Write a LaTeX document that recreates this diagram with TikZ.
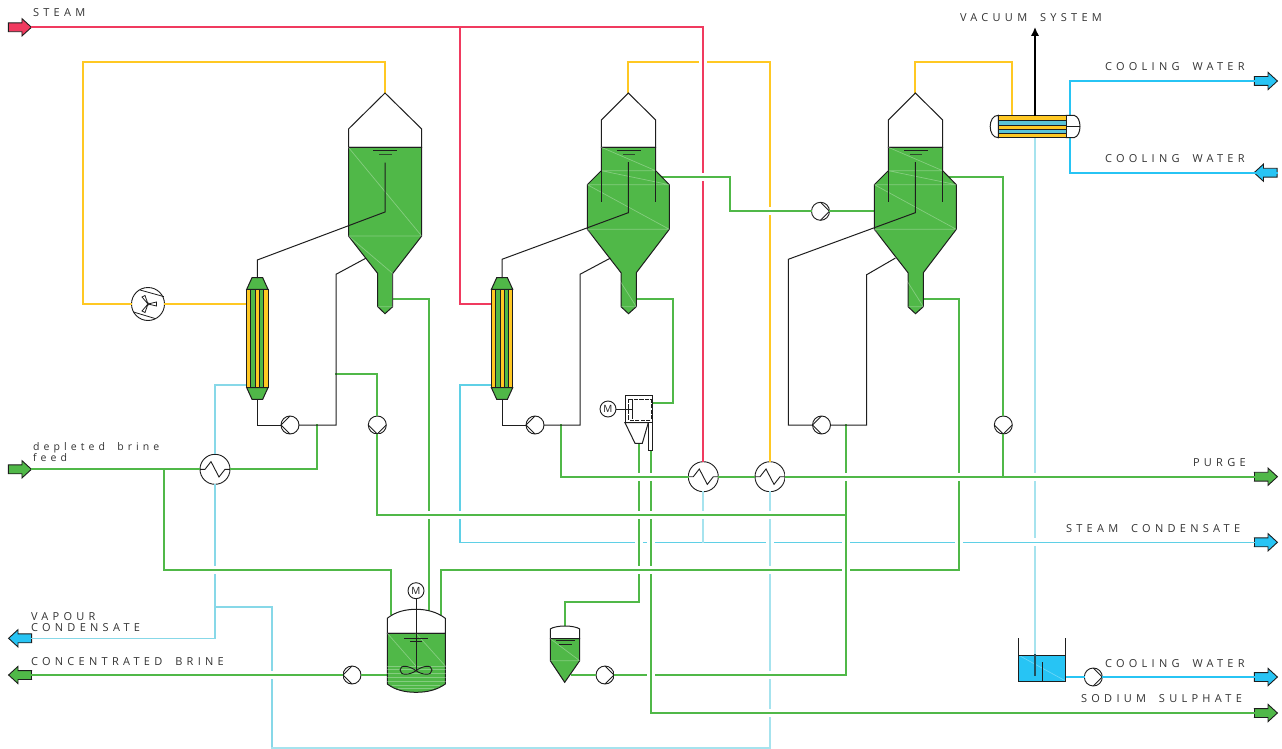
\documentclass[tikz,border=0pt]{standalone}
\usepackage{fontspec}
\setmainfont[LetterSpace=39,WordSpace=1.8]{Open Sans}
\newfontfamily\motorfont{Open Sans}
\usetikzlibrary{shapes.arrows,arrows.meta}
\definecolor{brinecol}{RGB}{80,184,72}
\definecolor{steamcol}{RGB}{240,58,95}
\definecolor{vapcol}{RGB}{255,200,35}
\definecolor{coolcol}{RGB}{39,196,244}
\definecolor{condcol}{RGB}{95,208,230}
\definecolor{midcol}{RGB}{135,216,232}
\definecolor{palecol}{RGB}{166,227,238}
\definecolor{inkcol}{RGB}{30,30,30}
\definecolor{textcol}{RGB}{50,50,50}
\definecolor{tubecol}{RGB}{90,195,215}
\tikzset{
	brine/.style={line width=1.8pt, brinecol},
	steam/.style={line width=1.8pt, steamcol},
	vap/.style={line width=1.8pt, vapcol},
	cool/.style={line width=1.8pt, coolcol},
	cond/.style={line width=1.2pt, condcol},
	mid/.style={line width=1.2pt, midcol},
	pale/.style={line width=1.8pt, palecol},
	ink/.style={line width=1pt, inkcol},
	over/.style={preaction={draw=white, line width=8pt, line cap=butt}},
	liq/.style={fill=brinecol, draw=inkcol, line width=1pt},
	gas/.style={fill=white, draw=inkcol, line width=1pt},
	glint/.style={white, opacity=0.3, line width=0.7pt},
	pumpbase/.style={circle, draw=inkcol, fill=white, line width=0.9pt, minimum size=18pt, inner sep=0pt},
	pumpw/.style={pumpbase, path picture={\draw[inkcol, line width=0.9pt] (path picture bounding box.north) -- (path picture bounding box.west) -- (path picture bounding box.south);}},
	pumpe/.style={pumpbase, path picture={\draw[inkcol, line width=0.9pt] (path picture bounding box.north) -- (path picture bounding box.east) -- (path picture bounding box.south);}},
	pumps/.style={pumpbase, path picture={\draw[inkcol, line width=0.9pt] (path picture bounding box.west) -- (path picture bounding box.south) -- (path picture bounding box.east);}},
	hxbox/.style={circle, draw=inkcol, fill=white, line width=0.9pt, minimum size=30pt, inner sep=0pt, path picture={\draw[inkcol, line width=0.9pt, shift={(path picture bounding box.center)}] (-15,0) -- (-10,0) -- (-4,-7.7) -- (4,7.7) -- (10,0) -- (15,0);}},
	motorbox/.style={circle, draw=inkcol, fill=white, line width=0.9pt, minimum size=16pt, inner sep=0pt, font=\motorfont\fontsize{10}{10}\selectfont, text=inkcol},
	stream/.style={single arrow, draw=inkcol, line width=0.9pt, minimum height=23pt, text height=8pt, text depth=0pt, text width=1pt, single arrow head extend=4.2pt, single arrow tip angle=85, inner sep=0pt},
	streamin/.style={stream, shape border rotate=180},
	lab/.style={inner sep=0pt, outer sep=0pt, anchor=base west, textcol, align=left, font=\fontsize{11}{11}\selectfont},
}
\begin{document}
\begin{tikzpicture}[x=1pt,y=-1pt,line cap=rect]
	\useasboundingbox (0,0) rectangle (1282,749);
	% pumps and exchangers
	\node[pumpw] (pmA) at (290,425) {};
	\node[pumps] (pmB) at (377.3,425) {};
	\node[pumpw] (pmC) at (535,425) {};
	\node[pumpw] (pmD) at (821.5,425) {};
	\node[pumps] (pmE) at (1003.3,425) {};
	\node[pumpe] (pmF) at (820.5,211.3) {};
	\node[pumpw] (pmG) at (352,675) {};
	\node[pumpe] (pmH) at (605,675) {};
	\node[pumpe] (pmI) at (1093.3,677) {};
	\node[hxbox] (hxA) at (215,469.3) {};
	\node[hxbox] (hxB) at (703.3,476.7) {};
	\node[hxbox] (hxC) at (770,476.7) {};
	\node[circle, draw=inkcol, fill=white, line width=0.9pt, minimum size=33pt, inner sep=0pt] (fanA) at (148,304) {};
	\node[motorbox] (mtA) at (416,590.7) {M};
	\node[motorbox] (mtB) at (608,409) {M};
	% battery limit arrows
	\node[stream, fill=steamcol] (stSteam) at (17.5,27.3) {};
	\node[stream, fill=brinecol] (stFeed) at (17.5,469.3) {};
	\node[streamin, fill=coolcol] (stVapour) at (22.5,638.3) {};
	\node[streamin, fill=brinecol] (stBrine) at (22.5,675) {};
	\node[stream, fill=coolcol] (stCwOut) at (1263.5,81) {};
	\node[streamin, fill=coolcol] (stCwIn) at (1268,172.7) {};
	\node[stream, fill=brinecol] (stPurge) at (1263.5,476.7) {};
	\node[stream, fill=coolcol] (stCond) at (1263.5,542.3) {};
	\node[stream, fill=coolcol] (stCwTank) at (1263.5,677) {};
	\node[stream, fill=brinecol] (stSodium) at (1263.5,713) {};
	% tie points
	\coordinate (evAtop) at (385,93);
	\coordinate (evBtop) at (628.3,93);
	\coordinate (evCtop) at (915.3,93);
	\coordinate (evAout) at (392.7,299);
	\coordinate (evBout) at (636.3,299);
	\coordinate (evCout) at (923.3,299);
	\coordinate (evBside) at (663,177);
	\coordinate (evCside) at (949,177);
	\coordinate (evCin) at (874.3,211.3);
	\coordinate (htAvap) at (246.7,304);
	\coordinate (htAcond) at (246.7,385);
	\coordinate (htBsteam) at (491.4,304);
	\coordinate (htBcond) at (491.4,385);
	\coordinate (ysA) at (83,62);
	\coordinate (ysB) at (770,62);
	\coordinate (ysC) at (1012,62);
	\coordinate (cdVap) at (1012,116);
	\coordinate (cdVac) at (1035,115.5);
	\coordinate (cdTop) at (1035,27);
	\coordinate (cdOut) at (1035,137.5);
	\coordinate (cdCwA) at (1070,115.5);
	\coordinate (cdCwB) at (1070,137.5);
	\coordinate (tkWater) at (1035,675.7);
	\coordinate (tkWaterOut) at (1065.7,677);
	\coordinate (rdTee) at (460,27.3);
	\coordinate (rdBend) at (703.3,27.3);
	\coordinate (cdTeeA) at (460,542.3);
	\coordinate (cdTeeB) at (703.3,542.3);
	\coordinate (vpTee) at (215,607);
	\coordinate (vpBend) at (215,638.3);
	\coordinate (lpA) at (272,748.3);
	\coordinate (lpB) at (770,748.3);
	\coordinate (lpC) at (770,600);
	\coordinate (tkA) at (390.7,614);
	\coordinate (tkB) at (429,612);
	\coordinate (tkC) at (440.7,614);
	\coordinate (rgB) at (959,570);
	\coordinate (fdTee) at (164,469.3);
	\coordinate (fdLow) at (164,570);
	\coordinate (lpTee) at (317,425);
	\coordinate (pgTee) at (561,425);
	\coordinate (pgBend) at (561,476.7);
	\coordinate (pgEnd) at (1003.3,476.7);
	\coordinate (bdA) at (336,373.7);
	\coordinate (bdB) at (377.3,373.7);
	\coordinate (bdC) at (377.3,515);
	\coordinate (bdD) at (836,515);
	\coordinate (bdE) at (846,515);
	\coordinate (drTop) at (846,425);
	\coordinate (drMid) at (846,600);
	\coordinate (drLow) at (846,675);
	\coordinate (ssA) at (651,450.3);
	\coordinate (ssB) at (651,713);
	\coordinate (clA) at (639,443.3);
	\coordinate (clB) at (639,602.3);
	\coordinate (clC) at (564.7,602.3);
	\coordinate (clD) at (564.7,625);
	\coordinate (cfIn) at (652.3,402.7);
	\coordinate (cfOut) at (672.7,299);
	\coordinate (stOut) at (572,675);
	\coordinate (mtTop) at (387.3,675);
	\coordinate (jkA) at (730,177);
	\coordinate (jkB) at (730,211.3);
	\coordinate (jkC) at (1003.3,177);
	% streams, lower ones first
	\draw [pale] (cdOut) -- (tkWater);
	\draw [vap] (evAtop) |- (ysA) |- (fanA.west);
	\draw [vap] (fanA.east) -- (htAvap);
	\draw [vap] (evBtop) |- (ysB) -- (hxC.north);
	\draw [vap] (evCtop) |- (ysC) -- (cdVap);
	\draw [steam, over] (stSteam.tip) -- (rdBend) -- (hxB.north);
	\draw [steam] (rdTee) |- (htBsteam);
	\draw [cond, over] (htBcond) -| (cdTeeA) -- (stCond.tail);
	\draw [pale] (hxB.south) -- (cdTeeB);
	\draw [mid] (htAcond) -| (hxA.north);
	\draw [mid] (hxA.south) -- (vpBend) -- (stVapour.tail);
	\draw [mid] (vpTee) -| (lpA);
	\draw [pale] (lpA) -- (lpB) -- (lpC);
	\draw [pale, over] (hxC.south) -- (lpC);
	\draw [brine, over] (drLow) -- (pmH.east);
	\draw [brine] (pmH.west) -- (stOut);
	\draw [brine, over] (clA) -- (clB) -- (clC) -- (clD);
	\draw [brine, over] (ssA) -- (ssB) -- (stSodium.tail);
	\draw [brine] (evAout) -| (tkB);
	\draw [brine, over] (fdTee) -- (fdLow) -| (tkA);
	\draw [brine, over] (tkC) |- (rgB) |- (evCout);
	\draw [brine] (evBout) -- (cfOut) |- (cfIn);
	\draw [brine, over] (drTop) -- (drMid);
	\draw [brine] (drMid) -- (drLow);
	\draw [brine] (bdA) -- (bdB) -- (pmB.north);
	\draw [brine, over] (pmB.south) -- (bdC) -- (bdD);
	\draw [brine] (bdD) -- (bdE);
	\draw [brine, over] (pgTee) -- (pgBend) -- (hxB.west);
	\draw [brine] (hxB.east) -- (hxC.west);
	\draw [brine, over] (hxC.east) -- (stPurge.tail);
	\draw [brine] (evCside) -- (jkC) -- (pmE.north);
	\draw [brine] (pmE.south) -- (pgEnd);
	\draw [brine, over] (evBside) -- (jkA) -- (jkB) -- (pmF.west);
	\draw [brine] (pmF.east) -- (evCin);
	\draw [brine, over] (pmG.west) -- (stBrine.tail);
	\draw [brine] (mtTop) -- (pmG.east);
	\draw [brine] (stFeed.tip) -- (hxA.west);
	\draw [brine] (hxA.east) -| (lpTee);
	\draw [cool] (stCwOut.tail) -| (cdCwA);
	\draw [cool] (cdCwB) |- (stCwIn.tail);
	\draw [cool] (tkWaterOut) -- (pmI.west);
	\draw [cool] (pmI.east) -- (stCwTank.tail);
	% first evaporator
	\draw [gas] (385,93) -- (421.7,129) -- (421.7,147.5) -- (348.5,147.5) -- (348.5,129) -- cycle;
	\draw [liq] (348.5,147.5) -- (421.7,147.5) -- (421.7,236) -- (392.7,273.5) -- (392.7,306.7) -- (385,313.7) -- (377.7,306.7) -- (377.7,273.5) -- (348.5,236) -- cycle;
	\draw [glint] (348.5,147.5) -- (421.7,236) -- (348.5,236) -- (392.7,273.5) -- (392.7,306.7) -- (377.7,306.7);
	\draw [inkcol, line width=1pt] (373,150.5) -- (396.5,150.5);
	\draw [inkcol!70!brinecol, line width=1pt] (379,154) -- (391,154);
	% second evaporator
	\draw [gas] (628.3,93) -- (655.7,120) -- (655.7,147.3) -- (601.3,147.3) -- (601.3,120) -- cycle;
	\draw [liq] (601.3,147.3) -- (655.7,147.3) -- (655.7,170.7) -- (669.3,184.7) -- (669.3,229.3) -- (636.3,272.7) -- (636.3,306.7) -- (628.5,313.7) -- (621,306.7) -- (621,272.7) -- (587.3,229.3) -- (587.3,184.7) -- (601.3,170.7) -- cycle;
	\draw [glint] (601.3,147.3) -- (655.7,170.7) -- (601.3,170.7) -- (669.3,184.7) -- (587.3,184.7) -- (669.3,229.3) -- (587.3,229.3) -- (636.3,306.7) -- (621,306.7);
	\draw [inkcol, line width=1pt] (617,150.5) -- (640,150.5);
	\draw [inkcol!70!brinecol, line width=1pt] (623,154) -- (634,154);
	\draw [ink] (601.3,170.7) -- (601.3,201);
	\draw [ink] (655.7,170.7) -- (655.7,201);
	% third evaporator
	\draw [gas] (915.3,93) -- (942.7,120) -- (942.7,147.3) -- (888.3,147.3) -- (888.3,120) -- cycle;
	\draw [liq] (888.3,147.3) -- (942.7,147.3) -- (942.7,170.7) -- (956.3,184.7) -- (956.3,229.3) -- (923.3,272.7) -- (923.3,306.7) -- (915.5,313.7) -- (908,306.7) -- (908,272.7) -- (874.3,229.3) -- (874.3,184.7) -- (888.3,170.7) -- cycle;
	\draw [glint] (888.3,147.3) -- (942.7,170.7) -- (888.3,170.7) -- (956.3,184.7) -- (874.3,184.7) -- (956.3,229.3) -- (874.3,229.3) -- (923.3,306.7) -- (908,306.7);
	\draw [inkcol, line width=1pt] (904,150.5) -- (927,150.5);
	\draw [inkcol!70!brinecol, line width=1pt] (910,154) -- (921,154);
	\draw [ink] (888.3,170.7) -- (888.3,201);
	\draw [ink] (942.7,170.7) -- (942.7,201);
	% first heater
	\fill [vapcol] (246.7,289.3) rectangle (268,387.7);
	\fill [brinecol] (250.7,289.3) rectangle (255.3,387.7);
	\fill [brinecol] (259.3,289.3) rectangle (263.3,387.7);
	\draw [ink] (250.7,289.3) -- (250.7,387.7);
	\draw [ink] (255.3,289.3) -- (255.3,387.7);
	\draw [ink] (259.3,289.3) -- (259.3,387.7);
	\draw [ink] (263.3,289.3) -- (263.3,387.7);
	\draw [ink] (246.7,289.3) rectangle (268,387.7);
	\draw [liq] (252,277.7) -- (262.7,277.7) -- (268,289.3) -- (246.7,289.3) -- cycle;
	\draw [liq] (246.7,387.7) -- (268,387.7) -- (262.7,399.3) -- (252,399.3) -- cycle;
	% second heater
	\fill [vapcol] (491.4,289.3) rectangle (512.7,387.7);
	\fill [brinecol] (495.4,289.3) rectangle (500,387.7);
	\fill [brinecol] (504,289.3) rectangle (508,387.7);
	\draw [ink] (495.4,289.3) -- (495.4,387.7);
	\draw [ink] (500,289.3) -- (500,387.7);
	\draw [ink] (504,289.3) -- (504,387.7);
	\draw [ink] (508,289.3) -- (508,387.7);
	\draw [ink] (491.4,289.3) rectangle (512.7,387.7);
	\draw [liq] (496.7,277.7) -- (507.4,277.7) -- (512.7,289.3) -- (491.4,289.3) -- cycle;
	\draw [liq] (491.4,387.7) -- (512.7,387.7) -- (507.4,399.3) -- (496.7,399.3) -- cycle;
	% recirculation loops
	\draw [ink] (385,163) -- (385,212) -- (257.3,260) -- (257.3,277.7);
	\draw [ink] (257.3,399.3) |- (pmA.west);
	\draw [ink] (pmA.east) -- (336,425) -- (336,274.3) -- (365.7,258.3);
	\draw [ink] (628.3,162.7) -- (628.3,212.7) -- (502,259.3) -- (502,277.7);
	\draw [ink] (502,399.3) |- (pmC.west);
	\draw [ink] (pmC.east) -- (580,425) -- (580,274.3) -- (610,258.3);
	\draw [ink] (915.3,162.7) -- (915.3,212.7) -- (788.3,259.3) -- (788.3,425) -- (pmD.west);
	\draw [ink] (pmD.east) -- (866.7,425) -- (866.7,274.7) -- (895,258.3);
	% fan blades
	\draw [inkcol, line width=0.8pt] (140,290) -- (163.5,296.5);
	\draw [inkcol, line width=0.8pt] (133.5,312) -- (155,318.5);
	\draw [inkcol, line width=0.8pt] (148,304) -- (156.5,302) -- (156.5,306) -- cycle;
	\draw [inkcol, line width=0.8pt] (148,304) -- (142,297) -- (145,295.5) -- cycle;
	\draw [inkcol, line width=0.8pt] (148,304) -- (142,311) -- (145,312.5) -- cycle;
	% condenser
	\draw [gas] (998.3,115.3) .. controls (987.5,115.3) and (987.5,137.7) .. (998.3,137.7) -- cycle;
	\draw [gas] (1066,115.3) -- (1074,115.3) .. controls (1082,117) and (1082,136) .. (1074,137.7) -- (1066,137.7) -- cycle;
	\draw [inkcol, line width=0.9pt] (1066,126.5) -- (1079.5,126.5);
	\fill [vapcol] (998.3,115.3) rectangle (1066,137.7);
	\fill [tubecol] (998.3,120.7) rectangle (1066,125);
	\fill [tubecol] (998.3,129.7) rectangle (1066,133.7);
	\draw [inkcol, line width=0.6pt] (998.3,120.7) -- (1066,120.7);
	\draw [inkcol, line width=0.6pt] (998.3,125) -- (1066,125);
	\draw [inkcol, line width=0.6pt] (998.3,129.7) -- (1066,129.7);
	\draw [inkcol, line width=0.6pt] (998.3,133.7) -- (1066,133.7);
	\draw [ink] (998.3,115.3) rectangle (1066,137.7);
	\draw [line width=2pt, black, -{Latex[length=9pt,width=8.5pt]}] (cdVac) -- (cdTop);
	% main crystalliser
	\draw [gas] (387.3,633.3) -- (387.3,618.3) .. controls (395,612) and (405,609.3) .. (416,609.3) .. controls (427,609.3) and (437,612) .. (445.3,618.3) -- (445.3,633.3) -- cycle;
	\draw [liq] (387.3,633.3) -- (387.3,684) .. controls (395,690) and (405,692.3) .. (416,692.3) .. controls (427,692.3) and (437,690) .. (445.3,684) -- (445.3,633.3) -- cycle;
	\draw [glint] (387.3,633.3) -- (416,666);
	\draw [glint] (416,633.3) -- (445.3,666);
	\draw [glint] (387.3,666.5) -- (445.3,666.5);
	\draw [glint] (387.3,669.5) -- (445.3,669.5);
	\draw [glint] (387.3,673) -- (445.3,673);
	\draw [glint] (387.3,677) -- (445.3,677);
	\draw [glint] (387.3,681) -- (445.3,681);
	\draw [glint] (392,685) -- (440,685);
	\draw [glint] (398,688) -- (434,688);
	\draw [inkcol, line width=1pt] (404.3,638) -- (427.3,638);
	\draw [inkcol, line width=1pt] (410.7,641.3) -- (421,641.3);
	\draw [inkcol, line width=0.9pt] (mtA.south) -- (416,670.7);
	\draw [inkcol, line width=0.9pt] (416,670.7) .. controls (410,666) and (400,664) .. (400,670) .. controls (400,676) and (410,675) .. (416,670.7) .. controls (422,666) and (432,664) .. (432,670) .. controls (432,676) and (422,675) .. (416,670.7);
	% small settler
	\draw [gas] (550.3,638.7) -- (550.3,629) .. controls (556,625) and (574,625) .. (579.7,629) -- (579.7,638.7) -- cycle;
	\draw [liq] (550.3,638.7) -- (579.7,638.7) -- (579.7,660.7) -- (564.7,682.3) -- (550.3,660.7) -- cycle;
	\draw [glint] (550.3,638.7) -- (579.7,660.7) -- (550.3,660.7);
	\draw [inkcol, line width=1pt] (556,640.7) -- (574,640.7);
	\draw [inkcol, line width=1pt] (559,644) -- (571,644);
	% centrifuge
	\draw [gas] (625,422.7) -- (635,443.3) -- (642.3,443.3) -- (648.3,422.7) -- cycle;
	\draw [gas] (648.3,422.7) rectangle (652.3,450.3);
	\draw [gas] (625,395.7) rectangle (652.3,422.7);
	\draw [inkcol, line width=0.9pt, dash pattern=on 3.5pt off 2pt] (628.7,399.3) rectangle (651,420);
	\draw [ink] (mtB.east) -- (632,409);
	\draw [ink] (632,400) -- (632,418);
	% cooling tank
	\fill [coolcol] (1018.3,655) rectangle (1065.7,681);
	\draw [glint] (1018.3,655) -- (1065.7,681);
	\draw [ink] (1018.3,638.3) -- (1018.3,681) -- (1065.7,681) -- (1065.7,638.3);
	\draw [ink] (1018.3,655) -- (1065.7,655);
	\draw [ink] (1042.3,662.3) -- (1042.3,681);
	\draw [inkcol!70!coolcol, line width=1.4pt] (1035,655) -- (tkWater);
	% labels
	\node[lab] (lbSteam) at (33,17) {STEAM};
	\node[lab] (lbVacuum) at (960,22) {VACUUM SYSTEM};
	\node[lab] (lbCwA) at (1105,71) {COOLING WATER};
	\node[lab] (lbCwB) at (1105,162) {COOLING WATER};
	\node[lab, font=\fontsize{10.5}{11}\selectfont] (lbFeed) at (33,461) {depleted brine\\feed};
	\node[lab] (lbVapour) at (31,631) {VAPOUR\\CONDENSATE};
	\node[lab] (lbBrine) at (31,665) {CONCENTRATED BRINE};
	\node[lab] (lbPurge) at (1193,466) {PURGE};
	\node[lab] (lbCond) at (1066,532) {STEAM CONDENSATE};
	\node[lab] (lbCwC) at (1105,667) {COOLING WATER};
	\node[lab] (lbSodium) at (1081,702) {SODIUM SULPHATE};
\end{tikzpicture}
\end{document}
